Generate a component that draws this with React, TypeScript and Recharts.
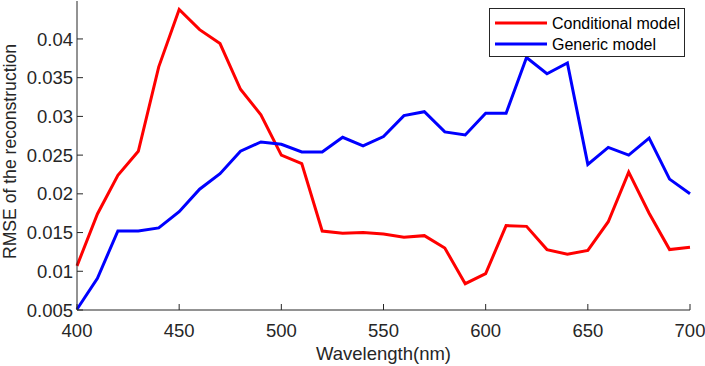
import { LineChart, Line, XAxis, YAxis, Legend, Label } from 'recharts'

const wavelengths = [
  400, 410, 420, 430, 440, 450, 460, 470, 480, 490, 500, 510, 520, 530, 540, 550,
  560, 570, 580, 590, 600, 610, 620, 630, 640, 650, 660, 670, 680, 690, 700,
]

const conditional = [
  0.0107, 0.0174, 0.0224, 0.0255, 0.0364, 0.0438, 0.0412, 0.0394, 0.0335, 0.0302,
  0.025, 0.0239, 0.0152, 0.0149, 0.015, 0.0148, 0.0144, 0.0146, 0.013, 0.0084,
  0.0097, 0.0159, 0.0158, 0.0128, 0.0122, 0.0127, 0.0164, 0.0228, 0.0175, 0.0128,
  0.0131,
]

const generic = [
  0.0051, 0.0091, 0.0152, 0.0152, 0.0156, 0.0177, 0.0206, 0.0226, 0.0255, 0.0267,
  0.0264, 0.0254, 0.0254, 0.0273, 0.0262, 0.0274, 0.0301, 0.0306, 0.028, 0.0276,
  0.0304, 0.0304, 0.0376, 0.0355, 0.0369, 0.0238, 0.026, 0.025, 0.0272, 0.0219,
  0.02,
]

const xTicks = [400, 450, 500, 550, 600, 650, 700]
const yTicks = [0.005, 0.01, 0.015, 0.02, 0.025, 0.03, 0.035, 0.04]

const data = wavelengths.map((w, i) => ({
  wavelength: w,
  conditional: conditional[i],
  generic: generic[i],
}))

const INK = '#262626'
const FONT = '"Liberation Sans", Arial, Helvetica, sans-serif'
const TICK_LEN = 6

// MATLAB-style ticks: marks point into the plot box
const LeftTick = ({ x, y, payload }: any) => (
  <g>
    <line x1={x} y1={y} x2={x + TICK_LEN} y2={y} stroke={INK} />
    <text x={x - 4} y={y} dy="0.36em" textAnchor="end" fill={INK} fontSize={18.5} fontFamily={FONT}>
      {String(payload.value)}
    </text>
  </g>
)

const RightTick = ({ x, y }: any) => (
  <line x1={x} y1={y} x2={x - TICK_LEN} y2={y} stroke={INK} />
)

const BottomTick = ({ x, y, payload }: any) => (
  <g>
    <line x1={x} y1={y} x2={x} y2={y - TICK_LEN} stroke={INK} />
    <text x={x} y={y + 27} textAnchor="middle" fill={INK} fontSize={18.5} fontFamily={FONT}>
      {String(payload.value)}
    </text>
  </g>
)

const TopTick = ({ x, y }: any) => (
  <line x1={x} y1={y} x2={x} y2={y + TICK_LEN} stroke={INK} />
)

const LegendBox = ({ payload }: any) => (
  <svg width={196} height={49} style={{ display: 'block' }}>
    <rect x={0.5} y={0.5} width={195} height={48} fill="#fff" stroke={INK} />
    {(payload || []).map((entry: any, i: number) => {
      const cy = 15 + i * 21
      return (
        <g key={entry.value}>
          <line x1={6} y1={cy} x2={58} y2={cy} stroke={entry.color} strokeWidth={3} />
          <text x={63} y={cy} dy="0.36em" fill="#000" fontSize={16} fontFamily={FONT}>
            {entry.value}
          </text>
        </g>
      )
    })}
  </svg>
)

export default function App() {
  return (
    <div style={{ position: 'absolute', left: 0, top: 0, width: 705, height: 366, background: '#fff' }}>
      <LineChart width={705} height={366} data={data} margin={{ top: 1, right: 15, bottom: 0, left: 0 }}>
        <XAxis
          xAxisId="bottom"
          dataKey="wavelength"
          type="number"
          domain={[400, 700]}
          ticks={xTicks}
          height={56}
          stroke={INK}
          tickLine={false}
          tickSize={0}
          tickMargin={0}
          tick={<BottomTick />}
        >
          <Label
            content={({ viewBox }: any) => (
              <text
                x={viewBox.x + viewBox.width / 2}
                y={viewBox.y + 50}
                textAnchor="middle"
                fill={INK}
                fontSize={18.5}
                fontFamily={FONT}
              >
                Wavelength(nm)
              </text>
            )}
          />
        </XAxis>
        <XAxis
          xAxisId="top"
          orientation="top"
          dataKey="wavelength"
          type="number"
          domain={[400, 700]}
          ticks={xTicks}
          height={0}
          stroke={INK}
          tickLine={false}
          tickSize={0}
          tickMargin={0}
          tick={<TopTick />}
        />
        <YAxis
          yAxisId="left"
          domain={[0.005, 0.0449]}
          ticks={yTicks}
          width={77}
          stroke={INK}
          tickLine={false}
          tickSize={0}
          tickMargin={0}
          tick={<LeftTick />}
        >
          <Label
            content={({ viewBox }: any) => {
              const cx = 10
              const cy = viewBox.y + viewBox.height / 2 - 4
              return (
                <text
                  x={cx}
                  y={cy}
                  transform={`rotate(-90 ${cx} ${cy})`}
                  textAnchor="middle"
                  dy="0.36em"
                  fill={INK}
                  fontSize={17.6}
                  fontFamily={FONT}
                >
                  RMSE of the reconstruction
                </text>
              )
            }}
          />
        </YAxis>
        <YAxis
          yAxisId="right"
          orientation="right"
          domain={[0.005, 0.0449]}
          ticks={yTicks}
          width={0}
          stroke={INK}
          tickLine={false}
          tickSize={0}
          tickMargin={0}
          tick={<RightTick />}
        />
        {/* vertical + centre alignment keeps the legend from eating plot space */}
        <Legend
          layout="vertical"
          align="center"
          verticalAlign="middle"
          content={<LegendBox />}
          wrapperStyle={{ position: 'absolute', left: 489, top: 8, width: 196, height: 49 }}
        />
        <Line
          xAxisId="bottom"
          yAxisId="left"
          dataKey="conditional"
          name="Conditional model"
          stroke="#ff0000"
          strokeWidth={3}
          dot={false}
          type="linear"
          isAnimationActive={false}
        />
        <Line
          xAxisId="bottom"
          yAxisId="left"
          dataKey="generic"
          name="Generic model"
          stroke="#0000ff"
          strokeWidth={3}
          dot={false}
          type="linear"
          isAnimationActive={false}
        />
      </LineChart>
    </div>
  )
}
